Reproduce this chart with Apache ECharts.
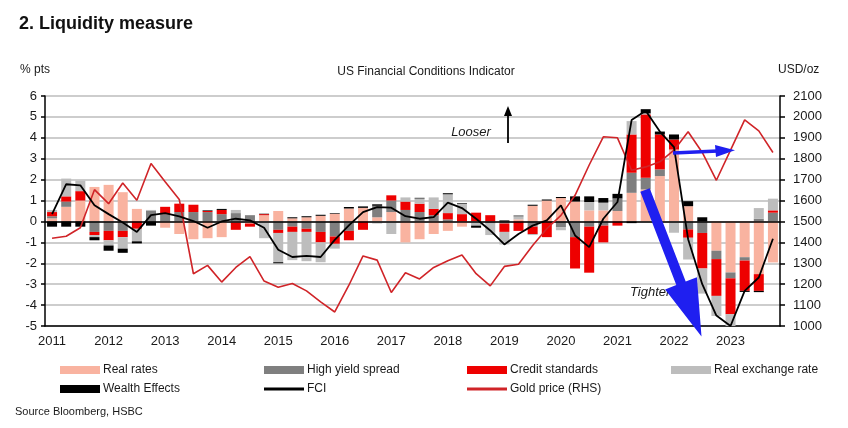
<!DOCTYPE html>
<html><head><meta charset="utf-8">
<script src="https://cdn.jsdelivr.net/npm/echarts@6/dist/echarts.min.js"></script>
<style>html,body{margin:0;padding:0;background:#fff}#c{width:848px;height:428px}</style>
</head><body><div id="c"></div>
<script>
const quarters = ["2011Q1","2011Q2","2011Q3","2011Q4","2012Q1","2012Q2","2012Q3","2012Q4",
"2013Q1","2013Q2","2013Q3","2013Q4","2014Q1","2014Q2","2014Q3","2014Q4",
"2015Q1","2015Q2","2015Q3","2015Q4","2016Q1","2016Q2","2016Q3","2016Q4",
"2017Q1","2017Q2","2017Q3","2017Q4","2018Q1","2018Q2","2018Q3","2018Q4",
"2019Q1","2019Q2","2019Q3","2019Q4","2020Q1","2020Q2","2020Q3","2020Q4",
"2021Q1","2021Q2","2021Q3","2021Q4","2022Q1","2022Q2","2022Q3","2022Q4",
"2023Q1","2023Q2","2023Q3","2023Q4"];

const realRates = [0.15,0.7,1.0,1.65,1.75,1.4,0.6,0,-0.3,-0.6,-0.85,-0.8,-0.75,-0.05,-0.1,0.3,
0.5,0.15,0.2,0.27,0.37,0.62,0.65,0.2,0.45,-1.0,-0.85,-0.6,-0.45,-0.25,0,0,
0,0.1,0.75,1.0,1.12,0.95,0.53,0.53,0.5,1.37,1.53,2.17,3.44,0.73,0,-1.4,
-2.44,-1.71,-2.52,-1.96];
const highYield = [0.1,0.25,0,-0.5,-0.45,-0.45,0,0.5,0.35,0.45,0.45,0.45,0.35,0.4,0.3,0,
-0.4,-0.25,-0.35,-0.5,-0.72,-0.45,0,0.55,0.55,0.55,0.45,0.3,0.1,0,0,-0.1,
-0.1,0,-0.25,0,-0.27,-0.75,-0.25,-0.2,0.6,0.96,0.56,0.32,0,-0.38,-0.55,-0.4,
-0.28,-0.16,0.13,0.42];
const creditStd = [0.2,0.25,0.45,-0.15,-0.45,-0.3,-0.35,0,0.35,0.4,0.35,0.05,0.2,-0.35,-0.15,0.05,
-0.15,-0.25,-0.15,-0.5,-0.35,-0.45,-0.4,0,0.25,0.4,0.4,0.3,0.3,0.35,0.42,0.3,
-0.4,-0.45,-0.35,-0.75,0,-1.5,-2.2,-0.8,-0.2,1.83,3.03,1.67,0.48,-0.4,-1.7,-1.76,
-1.72,-1.45,-0.8,0.11];
const realFx = [0.1,0.85,0.5,-0.1,-0.25,-0.55,-0.6,0.05,0,0,0,0,0,0.15,0,-0.8,
-1.4,-1.35,-1.4,-0.95,-0.23,0,0,-0.1,-0.6,0.2,0.25,0.55,0.9,0.5,-0.2,-0.55,
-0.6,0.15,-0.05,0,-0.15,0,0.4,0.37,0,0.64,0.05,0,-0.54,-1.04,-1.2,-0.96,
-0.56,0,0.51,0.56];
const wealth = [-0.25,-0.25,-0.25,-0.15,-0.25,-0.2,-0.1,-0.2,0,0,0,0.03,0.05,0,0,0.02,
-0.05,0.05,0.05,0.05,0.03,0.07,0.07,0.07,0,0,0.03,0,0.05,0.03,-0.1,0,
0.05,0.03,0.05,0.05,0.05,0.25,0.27,0.22,0.22,-0.08,0.2,0.14,0.24,0.24,0.2,0,
0,-0.05,-0.06,0];
const fci = [0.35,1.78,1.73,0.77,0.35,-0.05,-0.5,0.3,0.4,0.24,0.02,-0.3,0.0,0.13,0.05,-0.3,
-1.35,-1.7,-1.65,-1.7,-0.88,-0.19,0.45,0.69,0.66,0.25,0.13,0.21,0.9,0.64,0.13,-0.43,
-1.1,-0.6,-0.2,0.05,0.77,-0.67,-1.23,0.13,0.93,4.85,5.3,4.3,3.55,-0.85,-3.0,-4.5,
-5.0,-3.32,-2.68,-0.83];
const gold = [1420,1429,1470,1652,1585,1684,1601,1777,1690,1605,1250,1290,1210,1280,1332,1215,
1185,1203,1168,1115,1067,1195,1335,1315,1160,1255,1225,1280,1312,1340,1250,1192,
1285,1295,1385,1465,1529,1625,1770,1905,1900,1745,1761,1785,1841,1929,1830,1697,
1841,1986,1933,1830];
const leftTicks = {min:-5, max:6, interval:1};
const rightTicks = {min:1000, max:2100, interval:100};

const FONT = '"Liberation Sans", Arial, Helvetica, sans-serif';
const TXT = '#1a1a1a';
const chart = echarts.init(document.getElementById('c'), null, {renderer:'canvas'});

function leg(name, left, top, h){
  return {show:true, data:[name], left:left, top:top, padding:0, itemWidth:40, itemHeight:h,
    icon:'rect', selectedMode:false, textStyle:{fontSize:12, color:TXT, fontFamily:FONT, padding:[0,0,0,-2]}};
}
function bar(name, data, color){
  return {name:name, type:'bar', stack:'fci', data:data, barWidth:10,
    itemStyle:{color:color}, emphasis:{disabled:true}, animation:false};
}

const option = {
  animation:false,
  textStyle:{fontFamily:FONT},
  title:{text:'2. Liquidity measure', left:14, top:10,
    textStyle:{fontSize:18, fontWeight:'bold', color:'#111', fontFamily:FONT}},
  legend:[
    leg('Real rates',60,364,8), leg('High yield spread',264,364,8), leg('Credit standards',467,364,8), leg('Real exchange rate',671,364,8),
    leg('Wealth Effects',60,383,8), leg('FCI',264,383,3), leg('Gold price (RHS)',467,383,3)
  ],
  grid:{left:45, top:96, width:735, height:230, containLabel:false},
  xAxis:{type:'category', data:quarters, boundaryGap:true,
    axisLine:{onZero:false, lineStyle:{color:'#000', width:1.5}},
    axisTick:{interval:3, length:5, lineStyle:{color:'#000', width:1.5}},
    axisLabel:{interval:3, formatter:v=>v.slice(0,4), fontSize:13, color:TXT, margin:9, fontFamily:FONT},
    splitLine:{show:false}},
  yAxis:[
    {type:'value', min:leftTicks.min, max:leftTicks.max, interval:leftTicks.interval, position:'left',
     axisLine:{show:true, lineStyle:{color:'#000', width:1.5}},
     axisTick:{show:true, length:4, lineStyle:{color:'#000', width:1.5}},
     axisLabel:{fontSize:13, color:TXT, margin:8, fontFamily:FONT},
     splitLine:{show:true, lineStyle:{color:'#cdcdcd', width:2}}},
    {type:'value', min:rightTicks.min, max:rightTicks.max, interval:rightTicks.interval, position:'right',
     axisLine:{show:true, lineStyle:{color:'#000', width:1.5}},
     axisTick:{show:true, length:5, lineStyle:{color:'#000', width:1.5}},
     axisLabel:{fontSize:13, color:TXT, margin:13, fontFamily:FONT, formatter:v=>String(v)},
     splitLine:{show:false}}
  ],
  series:[
    bar('Real rates', realRates, '#f9b3a0'),
    bar('High yield spread', highYield, '#7f7f7f'),
    bar('Credit standards', creditStd, '#ee0000'),
    bar('Real exchange rate', realFx, '#bdbdbd'),
    bar('Wealth Effects', wealth, '#000000'),
    {name:'Gold price (RHS)', type:'line', yAxisIndex:1, data:gold, symbol:'none',
     lineStyle:{color:'#d02428', width:1.6}, itemStyle:{color:'#d02428'}, z:5, emphasis:{disabled:true}},
    {name:'FCI', type:'line', data:fci, symbol:'none',
     lineStyle:{color:'#000', width:1.8}, itemStyle:{color:'#000'}, z:6, emphasis:{disabled:true},
     markLine:{silent:true, symbol:['none','none'], label:{show:false},
       lineStyle:{color:'#000', width:1.6, type:'solid'}, data:[{yAxis:0}], animation:false}}
  ],
  graphic:[
    {type:'text', left:20, top:64, style:{text:'% pts', fontSize:12, fill:TXT, font:'12px '+FONT}},
    {type:'text', left:778, top:64, style:{text:'USD/oz', fontSize:12, fill:TXT, font:'12px '+FONT}},
    {type:'text', x:426, y:72, style:{text:'US Financial Conditions Indicator', font:'12px '+FONT, fill:TXT, textAlign:'center', textVerticalAlign:'middle'}},
    {type:'text', left:15, top:406, style:{text:'Source Bloomberg, HSBC', font:'11px '+FONT, fill:TXT}},
    {type:'text', x:471, y:132, z:20, style:{text:'Looser', font:'italic 13px '+FONT, fill:TXT, textAlign:'center', textVerticalAlign:'middle'}},
    {type:'line', z:20, shape:{x1:508, y1:143, x2:508, y2:114}, style:{stroke:'#000', lineWidth:1.8}},
    {type:'polygon', z:20, shape:{points:[[508,106],[504,116],[512,116]]}, style:{fill:'#000'}},
    {type:'text', x:630, y:292, z:20, style:{text:'Tighter', font:'italic 13px '+FONT, fill:TXT, textVerticalAlign:'middle'}},
    {type:'polygon', z:21, shape:{points:[[649.7,188.2],[685.7,281.5],[696.9,277.2],[701.5,336.5],[665.1,289.4],[676.3,285.1],[640.3,191.8]]}, style:{fill:'#1f1ff0'}},
    {type:'line', z:21, shape:{x1:673, y1:153, x2:718, y2:151}, style:{stroke:'#1f1ff0', lineWidth:3.5}},
    {type:'polygon', z:21, shape:{points:[[735,150.3],[715,145],[716,157]]}, style:{fill:'#1f1ff0'}}
  ]
};
chart.setOption(option);
</script></body></html>
